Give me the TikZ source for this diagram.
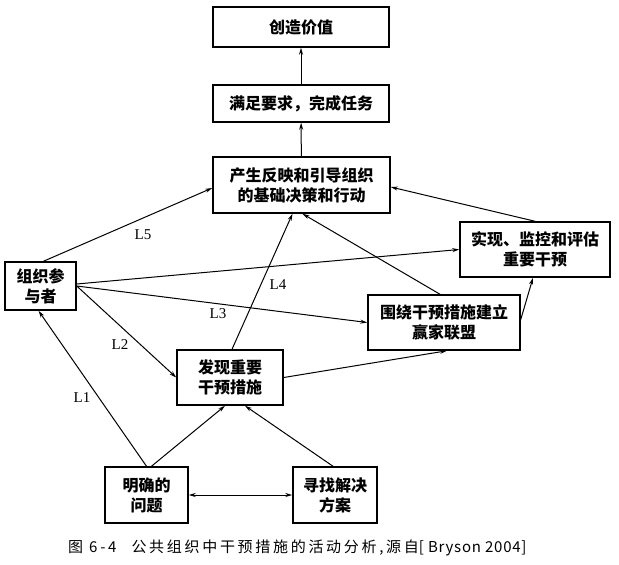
\documentclass[tikz,border=0pt]{standalone}
\usepackage{fontspec}
\setmainfont{Liberation Serif}
\newfontfamily\cjk{Noto Sans CJK SC}
\newfontfamily\cjkcap[LetterSpace=18]{Noto Sans CJK SC}
\newfontfamily\latcap[LetterSpace=5]{Noto Sans CJK SC}
\usetikzlibrary{shapes,arrows,arrows.meta,positioning,calc}

\begin{document}
\begin{tikzpicture}[x=1pt, y=-1pt,
                box/.style={rectangle, draw, line width=1.5pt, align=center, inner sep=2pt,
                            font=\cjk\bfseries\fontsize{16}{20}\selectfont},
                arrow/.style={-{Stealth[length=7pt, width=4pt]}, line width=1pt},
                lbl/.style={font=\fontsize{15}{17}\selectfont, inner sep=0pt}]

                \useasboundingbox (0,0) rectangle (619,565);

                % Results
                \node[box, minimum width=176pt, minimum height=40pt] (value) at (301,27) {创造价值};
                \node[box, minimum width=176pt, minimum height=37pt] (meet) at (301,103.5) {满足要求，完成任务};
                \node[box, minimum width=177pt, minimum height=56pt] (decide) at (301.5,185) {产生反映和引导组织\\的基础决策和行动};

                % Middle
                \node[box, minimum width=150pt, minimum height=55pt] (monitor) at (535,249.5) {实现、监控和评估\\重要干预};
                \node[box, minimum width=71pt, minimum height=48pt] (actor) at (40.5,286) {组织参\\与者};
                \node[box, minimum width=152pt, minimum height=55pt] (coalition) at (444,322.5) {围绕干预措施建立\\赢家联盟};
                \node[box, minimum width=106pt, minimum height=55pt] (find) at (230,377.5) {发现重要\\干预措施};

                % Bottom
                \node[box, minimum width=83pt, minimum height=56pt] (problem) at (146.5,495) {明确的\\问题};
                \node[box, minimum width=84pt, minimum height=56pt] (solution) at (335,495) {寻找解决\\方案};

                % Labels
                \node[lbl] (l5) at (143,235) {L5};
                \node[lbl] (l4) at (278,285) {L4};
                \node[lbl] (l3) at (218,314) {L3};
                \node[lbl] (l2) at (120,345) {L2};
                \node[lbl] (l1) at (82,398) {L1};

                % Connections
                \foreach \a/\b in {meet/value, decide/meet} {
                    \draw[arrow] (\a) -- (\b);
                }
                \draw[arrow] ($(actor.north)+(3,0)$) -- ($(decide.west)+(0,3)$);
                \draw[arrow] (monitor.north) -- ($(decide.east)+(0,2)$);
                \draw[arrow] ($(actor.east)+(0,-2)$) -- (monitor.west);
                \draw[arrow] (actor.east) -- (coalition.west);
                \draw[arrow] (actor.east) -- (find.west);
                \draw[arrow] ($(find.north)+(2,0)$) -- ($(decide.south)+(-9,0)$);
                \draw[arrow] ($(coalition.north)+(-4,0)$) -- ($(decide.south)+(1,0)$);
                \draw[arrow] ($(coalition.east)+(0,-3)$) -- ($(monitor.south)+(-2,0)$);
                \draw[arrow] (find.east) -- ($(coalition.south)+(3,0)$);
                \draw[arrow] (problem.north) -- ($(actor.south)+(-2,0)$);
                \draw[arrow] ($(problem.north)+(5,0)$) -- ($(find.south)+(-5,0)$);
                \draw[arrow] ($(solution.north)+(-2,0)$) -- ($(find.south)+(15,0)$);
                \draw[arrow, {Stealth[length=7pt, width=4pt]}-{Stealth[length=7pt, width=4pt]}] (problem.east) -- (solution.west);

                % Caption
                \node[anchor=west, inner sep=0pt, font=\fontsize{15}{18}\selectfont] (caption) at (68,548)
                    {{\cjkcap 图 6-4\quad 公共组织中干预措施的活动分析,源自}{\latcap [ Bryson 2004]}};

\end{tikzpicture}
\end{document}
